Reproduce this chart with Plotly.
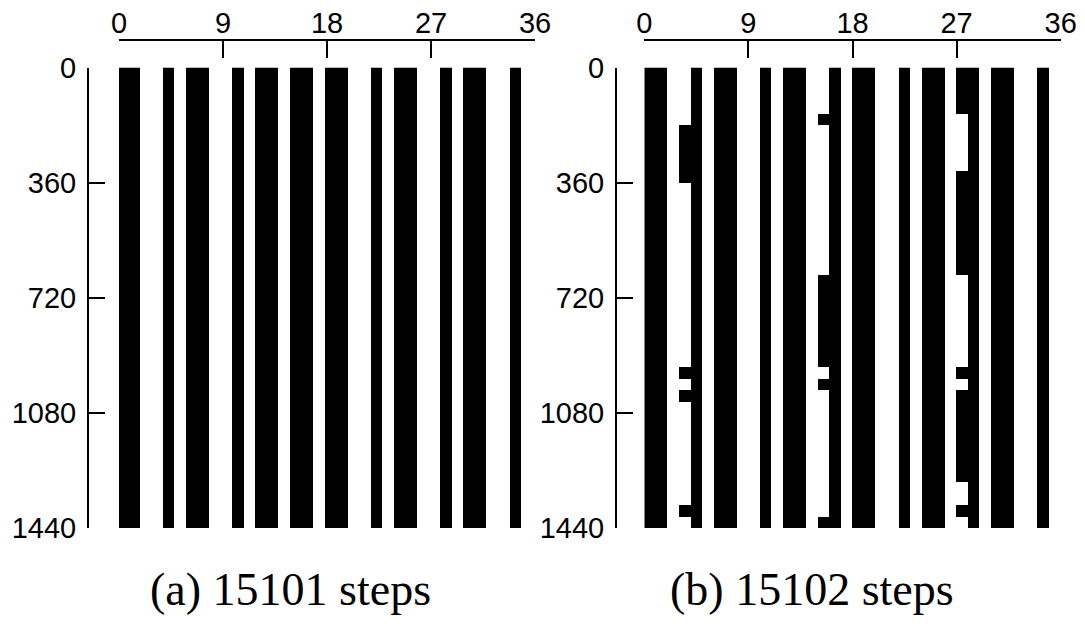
import numpy as np
import plotly.graph_objects as go

# ---------------- data ----------------
N_CELLS = 36
N_STEPS = 1440
BLOCK = 36  # time resolution of the recorded pattern (all events fall on multiples of 36)

x_ticks = [0, 9, 18, 27, 36]
y_ticks = [0, 360, 720, 1080, 1440]

# panel (a): cells that stay black for the whole run
cells_a = [0, 1, 4, 6, 7, 10, 12, 13, 15, 16, 18, 19, 22, 24, 25, 28, 30, 31, 34]

# panel (b): cells that stay black for the whole run
cells_b = [0, 1, 4, 6, 7, 10, 12, 13, 16, 18, 19, 22, 24, 25, 28, 30, 31, 34]
# panel (b): cells that are black only during some time intervals [start, end)
cell3_on = [(180, 360), (936, 972), (1008, 1044), (1368, 1404)]
cell15_on = [(144, 180), (648, 936), (972, 1008), (1404, 1440)]
cell27_on = [(0, 144), (324, 648), (936, 972), (1008, 1296), (1368, 1404)]

titles = ["(a) 15101 steps", "(b) 15102 steps"]

# ---------------- build grids ----------------
n_rows = N_STEPS // BLOCK


def grid(const_cells, intermittent):
    z = np.zeros((n_rows, N_CELLS))
    for c in const_cells:
        z[:, c] = 1
    for c, spans in intermittent.items():
        for s, e in spans:
            z[s // BLOCK:e // BLOCK, c] = 1
    return z


z_a = grid(cells_a, {})
z_b = grid(cells_b, {3: cell3_on, 15: cell15_on, 27: cell27_on})

y_centers = [BLOCK * (i + 0.5) for i in range(n_rows)]

PAGE_OFF = 8  # default body margin of the html page
W, H = 1085 - PAGE_OFF, 638 - PAGE_OFF


def px_x(p):
    return (p - PAGE_OFF) / W


def px_y(p):
    return 1 - (p - PAGE_OFF) / H


fig = go.Figure()
cs = [[0, "white"], [1, "black"]]
shift_a = 0.2
fig.add_trace(go.Heatmap(z=z_a, x=[c + 0.5 - shift_a for c in range(N_CELLS)], y=y_centers,
                         colorscale=cs, zmin=0, zmax=1, showscale=False,
                         xaxis="x", yaxis="y", hoverinfo="skip"))
fig.add_trace(go.Heatmap(z=z_b, x=[c + 0.5 for c in range(N_CELLS)], y=y_centers,
                         colorscale=cs, zmin=0, zmax=1, showscale=False,
                         xaxis="x2", yaxis="y2", hoverinfo="skip"))

ydom = [px_y(528), px_y(67.5)]
tickfont = dict(family="Liberation Sans, Arial, sans-serif", size=29, color="black")

common_x = dict(range=[0, 36], tickvals=x_ticks, ticktext=[str(v) for v in x_ticks],
                side="top", anchor="free", position=px_y(40), showline=True,
                linecolor="black", linewidth=2, ticks="inside", ticklen=17, tickwidth=2,
                tickcolor="black", showgrid=False, zeroline=False, tickfont=tickfont,
                ticklabelstandoff=-6, automargin=False, fixedrange=True)
common_y = dict(range=[N_STEPS, 0], tickvals=y_ticks, ticktext=[str(v) for v in y_ticks],
                anchor="free", showline=True, linecolor="black", linewidth=2,
                ticks="inside", ticklen=16, tickwidth=2, tickcolor="black",
                showgrid=False, zeroline=False, tickfont=tickfont, domain=ydom,
                ticklabelstandoff=5, automargin=False, fixedrange=True)

fig.update_layout(
    width=W, height=H,
    margin=dict(l=0, r=0, t=0, b=0, autoexpand=False),
    paper_bgcolor="white", plot_bgcolor="white",
    xaxis=dict(domain=[px_x(119), px_x(535)], **common_x),
    xaxis2=dict(domain=[px_x(644.3), px_x(1060.7)], **common_x),
    yaxis=dict(position=px_x(88), **common_y),
    yaxis2=dict(position=px_x(616), **common_y),
    showlegend=False,
)

centers = [290, 812]
for t, cx in zip(titles, centers):
    fig.add_annotation(text=t, x=px_x(cx), y=px_y(589), xref="paper", yref="paper",
                       showarrow=False, xanchor="center", yanchor="middle",
                       font=dict(family="Liberation Serif, DejaVu Serif, serif", size=46, color="black"))

fig.write_html("out.html")
